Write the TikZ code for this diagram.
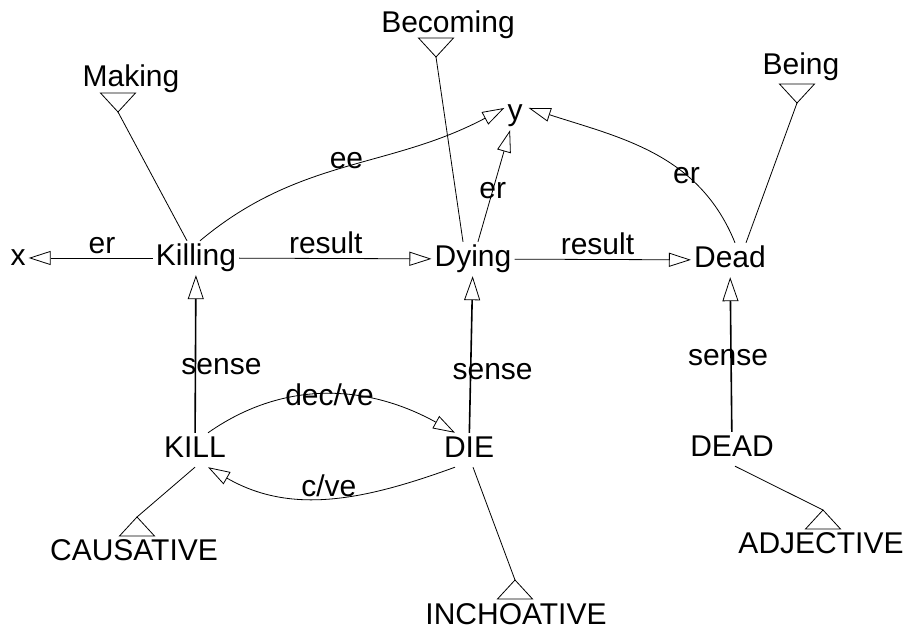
\documentclass[tikz,border=0pt]{standalone}
\usepackage{fontspec}
\setmainfont{Liberation Sans}
\usetikzlibrary{arrows.meta}
\begin{document}
\begin{tikzpicture}[x=1pt,y=1pt]
\tikzstyle{wd} = [anchor=base,inner sep=3pt,text height=22pt,text depth=6pt,font=\fontsize{30}{36}\selectfont] %word
\tikzstyle{lab} = [inner sep=1pt,font=\fontsize{30}{36}\selectfont] %label
\tikzstyle{de} = [-{Triangle[open,length=22pt,width=14pt]},line width=0.8pt] %directed edge
\tikzstyle{se} = [-{Triangle[open,length=24pt,width=16pt,line width=0.8pt]},line width=1.6pt] %sense edge
\tikzstyle{isa} = [line width=0.8pt] %isa link
\useasboundingbox (0,0) rectangle (907,631);
% words
\node[wd](vmaking)at(131,544){Making};
\node[wd](vbecoming)at(448,598){Becoming};
\node[wd](vbeing)at(801,556){Being};
\node[wd](vy)at(515,510){y};
\node[wd](vx)at(18,365){x};
\node[wd](vkilling)at(196,365){Killing};
\node[wd](vdying)at(473,364){Dying};
\node[wd](vdead)at(730,363){Dead};
\node[wd](vkill)at(195,173){KILL};
\node[wd](vdie)at(469,173){DIE};
\node[wd](vdeadw)at(732,174){DEAD};
\node[wd](vcausative)at(134,70){CAUSATIVE};
\node[wd](vinchoative)at(516,6){INCHOATIVE};
\node[wd](vadjective)at(821,77){ADJECTIVE};
% isa triangles
\coordinate(imaking)at(118,519);
\coordinate(ibecoming)at(436,574);
\coordinate(ibeing)at(797,528);
\coordinate(icausative)at(137,114);
\coordinate(iinchoative)at(515,51);
\coordinate(iadjective)at(823,121);
\draw[isa](imaking)--++(-17.5,19)--++(35,0)--cycle;
\draw[isa](ibecoming)--++(-17.5,19)--++(35,0)--cycle;
\draw[isa](ibeing)--++(-17.5,19)--++(35,0)--cycle;
\draw[isa](icausative)--++(-17.5,-19)--++(35,0)--cycle;
\draw[isa](iinchoative)--++(-17.5,-19)--++(35,0)--cycle;
\draw[isa](iadjective)--++(-17.5,-19)--++(35,0)--cycle;
\draw[isa]([xshift=-9pt]vkilling.north)--(imaking);
\draw[isa]([xshift=-10pt]vdying.north)--(ibecoming);
\draw[isa]([xshift=16pt]vdead.north)--(ibeing);
\draw[isa](vkill.south)--(icausative);
\draw[isa]([xshift=4pt]vdie.south)--(iinchoative);
\draw[isa]([xshift=3pt]vdeadw.south)--(iadjective);
% relations
\draw[de](vkilling)--(vx) node[lab,pos=0.41,above=3pt]{er};
\draw[de](vkilling)--(vdying) node[lab,pos=0.45,above=3pt]{result};
\draw[de](vdying)--(vdead) node[lab,pos=0.47,above=3pt]{result};
\draw[de]([xshift=4pt]vkilling.north) to[out=40,in=208] node[lab,pos=0.5,anchor=south,inner sep=0pt,yshift=-3pt]{ee} ([yshift=5pt]vy.west);
\draw[de](vdying)--(vy) node[lab,pos=0.46]{er};
\draw[de]([xshift=5pt]vdead.north) to[out=112,in=-18] node[lab,pos=0.33]{er} ([xshift=3pt,yshift=5pt]vy.east);
\draw[de]([xshift=13pt]vkill.north) to[out=35,in=151] node[lab,pos=0.5]{dec/ve} ([xshift=-14pt]vdie.north);
\draw[de]([xshift=-14pt]vdie.south) to[out=200,in=-30] node[lab,pos=0.5,anchor=south,inner sep=0pt]{c/ve} ([xshift=13pt]vkill.south);
% senses
\draw[se](vkill)--(vkilling) node[lab,pos=0.42,xshift=26pt]{sense};
\draw[se](vdie)--(vdying) node[lab,pos=0.39,xshift=22pt]{sense};
\draw[se](vdeadw)--(vdead) node[lab,pos=0.48,xshift=-3pt]{sense};
\end{tikzpicture}
\end{document}
